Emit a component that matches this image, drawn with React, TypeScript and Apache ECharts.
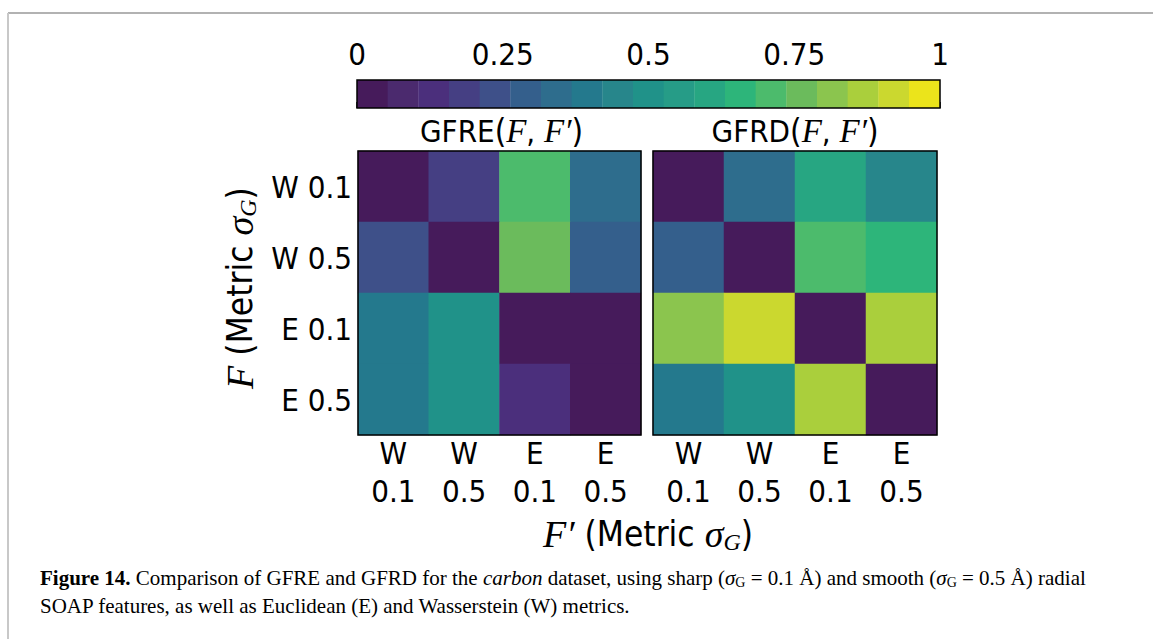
import React, { useEffect, useRef } from "react";
import * as echarts from "echarts";

// ---- data ----
const rowLabels = ["W 0.1", "W 0.5", "E 0.1", "E 0.5"];
const colLabels = ["W\n0.1", "W\n0.5", "E\n0.1", "E\n0.5"];
// rows: F (W0.1, W0.5, E0.1, E0.5); columns: F' (same order)
const gfre = [
  [0.0, 0.18, 0.7, 0.34],
  [0.24, 0.0, 0.76, 0.27],
  [0.39, 0.49, 0.0, 0.0],
  [0.39, 0.49, 0.13, 0.0],
];
const gfrd = [
  [0.0, 0.34, 0.61, 0.44],
  [0.29, 0.0, 0.7, 0.66],
  [0.81, 0.92, 0.0, 0.87],
  [0.39, 0.51, 0.87, 0.0],
];
const cmapColors = [
  "#461b5b", "#4b2a6e", "#4b2f7c", "#453f83", "#3e5089", "#345f8c", "#2e6d8d",
  "#24798d", "#27868b", "#209289", "#269c87", "#27a682", "#2db57a", "#4cbb6c",
  "#6bbb5c", "#8bc54e", "#aacf3c", "#cbd82f", "#ebe41b",
];
const cbTicks = [0, 0.25, 0.5, 0.75, 1];

const FONT = '"DejaVu Sans Condensed", "Liberation Sans Narrow", "DejaVu Sans", sans-serif';
const MATH = '"Liberation Serif", "DejaVu Serif", serif';
const CAP = '"Liberation Serif", "DejaVu Serif", serif';

const G0 = { left: 358, top: 151, width: 283, height: 284 };
const G1 = { left: 653, top: 151, width: 284, height: 284 };
const CB = { left: 357, top: 80, width: 583, height: 28 };

const toCells = (m: number[][]) => {
  const out: number[][] = [];
  m.forEach((row, r) => row.forEach((v, c) => out.push([c, r, v])));
  return out;
};

export default function App() {
  const ref = useRef<HTMLDivElement>(null);
  useEffect(() => {
    document.body.style.margin = "0";
    if (!ref.current) return;
    const chart = echarts.init(ref.current, undefined, { renderer: "svg" });
    const n = cmapColors.length;
    const pieces = cmapColors.map((color, i) =>
      i === n - 1 ? { gte: i / n, lte: 1, color } : { gte: i / n, lt: (i + 1) / n, color }
    );
    const itemW = 31;
    const itemGap = (CB.width - n * itemW) / (n - 1);
    const titleRich = {
      m: { fontFamily: MATH, fontStyle: "italic", fontSize: 33, fill: "#000" },
      p: { fontFamily: FONT, fontSize: 33 },
    };
    const nameRich = {
      m: { fontFamily: MATH, fontStyle: "italic", fontSize: 38, fill: "#000" },
      s: { fontFamily: MATH, fontStyle: "italic", fontSize: 24, padding: [16, 0, 0, 0] },
    };
    const capRich = {
      b: { fontFamily: CAP, fontWeight: "bold", fontSize: 21 },
      i: { fontFamily: CAP, fontStyle: "italic", fontSize: 21 },
      sub: { fontFamily: CAP, fontSize: 14, padding: [9, 0, 0, 0] },
    };
    const catAxisCommon = {
      type: "category",
      axisLine: { show: false },
      axisTick: { show: false },
      splitLine: { show: false },
    };
    const rectFor = (g: any) => ({
      type: "rect",
      shape: { x: g.left, y: g.top, width: g.width, height: g.height },
      style: { fill: "none", stroke: "#000", lineWidth: 1.5 },
      z: 100,
    });
    const xLabel = { fontSize: 31, fontFamily: FONT, color: "#000", lineHeight: 38, margin: -1 };
    chart.setOption({
      animation: false,
      backgroundColor: "#fff",
      grid: [
        { ...G0, containLabel: false },
        { ...G1, containLabel: false },
        { ...CB, containLabel: false },
      ],
      xAxis: [
        { ...catAxisCommon, gridIndex: 0, data: colLabels, axisLabel: xLabel },
        { ...catAxisCommon, gridIndex: 1, data: colLabels, axisLabel: xLabel },
        {
          type: "value",
          gridIndex: 2,
          position: "top",
          min: 0,
          max: 1,
          interval: 0.25,
          axisLine: { show: false },
          splitLine: { show: false },
          axisTick: { show: true, length: 6, lineStyle: { color: "#000", width: 1.5 } },
          axisLabel: {
            fontSize: 31,
            fontFamily: FONT,
            color: "#000",
            margin: 11,
            formatter: (v: number) => (cbTicks.includes(v) ? String(v) : ""),
          },
        },
      ],
      yAxis: [
        {
          ...catAxisCommon,
          gridIndex: 0,
          data: rowLabels,
          inverse: true,
          axisLabel: { fontSize: 31, fontFamily: FONT, color: "#000", margin: 6 },
        },
        {
          ...catAxisCommon,
          gridIndex: 1,
          data: rowLabels,
          inverse: true,
          axisLabel: { show: false },
        },
        { type: "value", gridIndex: 2, show: false, min: 0, max: 1 },
      ],
      visualMap: [
        {
          type: "piecewise",
          pieces,
          seriesIndex: [0, 1],
          orient: "horizontal",
          left: CB.left,
          top: CB.top,
          itemWidth: itemW,
          itemHeight: CB.height,
          itemGap,
          itemSymbol: "rect",
          showLabel: false,
          selectedMode: false,
          hoverLink: false,
          padding: 0,
          textGap: 0,
        },
      ],
      series: [
        {
          type: "heatmap",
          xAxisIndex: 0,
          yAxisIndex: 0,
          data: toCells(gfre),
          itemStyle: { borderWidth: 0 },
          emphasis: { disabled: true },
        },
        {
          type: "heatmap",
          xAxisIndex: 1,
          yAxisIndex: 1,
          data: toCells(gfrd),
          itemStyle: { borderWidth: 0 },
          emphasis: { disabled: true },
        },
      ],
      graphic: [
        { type: "line", shape: { x1: 8, y1: 13, x2: 1153, y2: 13 }, style: { stroke: "#999", lineWidth: 1.5 } },
        { type: "line", shape: { x1: 8, y1: 13, x2: 8, y2: 639 }, style: { stroke: "#c8c8c8", lineWidth: 2 } },
        rectFor(G0),
        rectFor(G1),
        rectFor(CB),
        {
          type: "text",
          x: G0.left + G0.width / 2 + 2,
          y: 131,
          style: {
            text: "GFRE{p|(}{m|F}, {m|F′}{p|)}",
            rich: titleRich,
            fontFamily: FONT,
            fontSize: 31,
            fill: "#000",
            align: "center",
            verticalAlign: "middle",
          },
        },
        {
          type: "text",
          x: G1.left + G1.width / 2,
          y: 131,
          style: {
            text: "GFRD{p|(}{m|F}, {m|F′}{p|)}",
            rich: titleRich,
            fontFamily: FONT,
            fontSize: 31,
            fill: "#000",
            align: "center",
            verticalAlign: "middle",
          },
        },
        {
          type: "text",
          x: 648,
          y: 534,
          style: {
            text: "{m|F′} (Metric {m|σ}{s|G})",
            rich: nameRich,
            fontFamily: FONT,
            fontSize: 35,
            fill: "#000",
            align: "center",
            verticalAlign: "middle",
          },
        },
        {
          type: "text",
          x: 240,
          y: 288,
          rotation: Math.PI / 2,
          style: {
            text: "{m|F} (Metric {m|σ}{s|G})",
            rich: nameRich,
            fontFamily: FONT,
            fontSize: 35,
            fill: "#000",
            align: "center",
            verticalAlign: "middle",
          },
        },
        {
          type: "text",
          x: 40,
          y: 578,
          style: {
            text:
              "{b|Figure 14.} Comparison of GFRE and GFRD for the {i|carbon} dataset, using sharp ({i|σ}{sub|G} = 0.1 Å) and smooth ({i|σ}{sub|G} = 0.5 Å) radial",
            rich: capRich,
            fontFamily: CAP,
            fontSize: 21,
            fill: "#000",
            align: "left",
            verticalAlign: "middle",
          },
        },
        {
          type: "text",
          x: 40,
          y: 606,
          style: {
            text: "SOAP features, as well as Euclidean (E) and Wasserstein (W) metrics.",
            fontFamily: CAP,
            fontSize: 21,
            fill: "#000",
            align: "left",
            verticalAlign: "middle",
          },
        },
      ],
    });
    return () => chart.dispose();
  }, []);
  return <div ref={ref} style={{ width: 1153, height: 639 }} />;
}
